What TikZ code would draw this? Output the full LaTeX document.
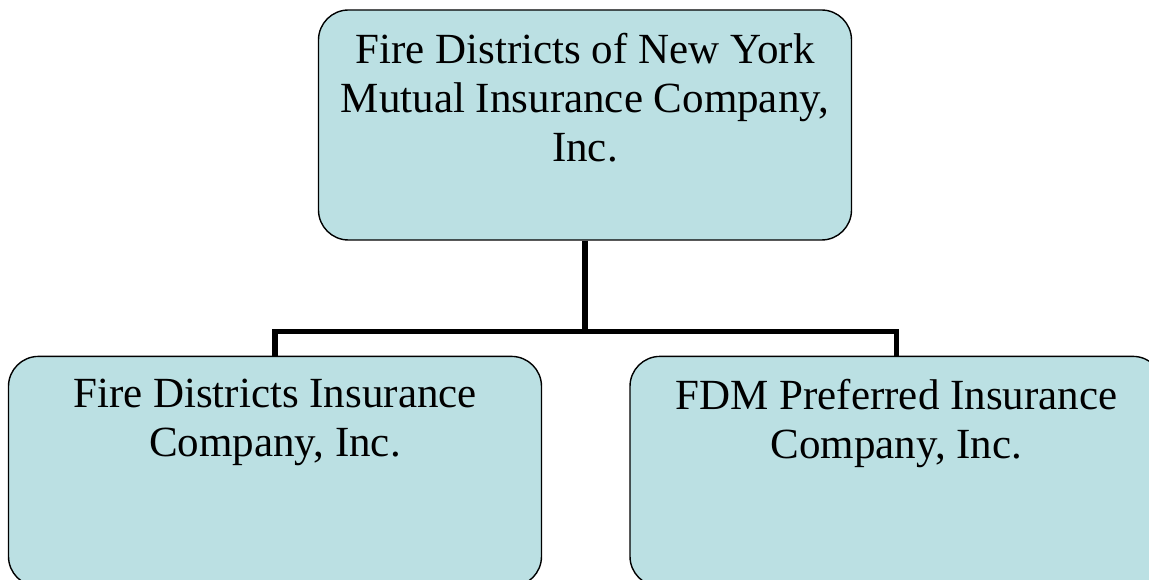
\documentclass[tikz,border=0pt]{standalone}
\usepackage{fontspec}
\setmainfont{Liberation Serif}
\usetikzlibrary{positioning}
\definecolor{boxblue}{RGB}{187,224,227}
\newcommand{\orgtext}[1]{\parbox[t][184pt][t]{520pt}{\centering #1}}

\begin{document}
\begin{tikzpicture}[node distance=115pt,
  orgbox/.style={rectangle,draw=black,line width=1.4pt,fill=boxblue,rounded corners=30pt,
    inner xsep=6.5pt,inner ysep=22pt,minimum width=533pt,minimum height=230pt,
    font=\fontsize{43pt}{49pt}\selectfont},
  tie/.style={draw=black,line width=5.5pt}]
\clip (0,0) rectangle (1149pt,-580pt);
\useasboundingbox (0,0) rectangle (1149pt,-580pt);
\node[orgbox] (fdny) at (585pt,-125pt) {\orgtext{Fire Districts of New York\\Mutual Insurance Company,\\Inc.}};
\node[orgbox,below=of fdny,xshift=-310pt] (fdic) {\orgtext{Fire Districts Insurance\\Company, Inc.}};
\node[orgbox,below=of fdny,xshift=311.5pt] (fdmp) {\orgtext{FDM Preferred Insurance\\Company, Inc.}};

\draw[tie] (fdny.south) -- ++(0,-91pt) coordinate (bus);
\draw[tie] (bus) -| (fdic.north);
\draw[tie] (bus) -| (fdmp.north);
\end{tikzpicture}
\end{document}
